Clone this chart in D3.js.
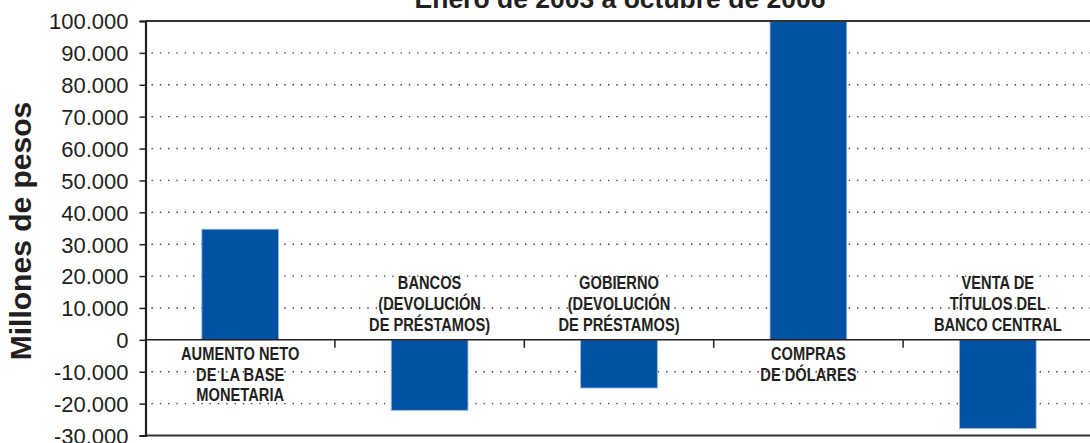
<!DOCTYPE html>
<html>
<head>
<meta charset="utf-8">
<script src="https://cdn.jsdelivr.net/npm/d3@7"></script>
<style>
  html, body { margin: 0; padding: 0; background: #fff; overflow: hidden; }
  svg { display: block; }
</style>
</head>
<body>
<svg id="chart" width="1090" height="443"></svg>
<script>
// Origen de la base monetaria, enero de 2003 a octubre de 2006 (millones de pesos)
const title = "Enero de 2003 a octubre de 2006";
const yTitle = "Millones de pesos";
const categories = [
  ["AUMENTO NETO", "DE LA BASE", "MONETARIA"],
  ["BANCOS", "(DEVOLUCIÓN", "DE PRÉSTAMOS)"],
  ["GOBIERNO", "(DEVOLUCIÓN", "DE PRÉSTAMOS)"],
  ["COMPRAS", "DE DÓLARES"],
  ["VENTA DE", "TÍTULOS DEL", "BANCO CENTRAL"]
];
const values = [34700, -22100, -15100, 100000, -27800];
const yTicks = [-30000, -20000, -10000, 0, 10000, 20000, 30000, 40000, 50000, 60000, 70000, 80000, 90000, 100000];

const svg = d3.select("#chart");
const margin = { top: 21, right: -2.5, bottom: 7.5, left: 145.5 };
const W = 1090, H = 443;
const x0 = margin.left, x1 = W - margin.right, y0 = margin.top, y1 = H - margin.bottom;

const locale = d3.formatLocale({ decimal: ",", thousands: ".", grouping: [3], currency: ["$", ""], minus: "-" });
const fmt = locale.format(",");

const x = d3.scaleBand().domain(d3.range(categories.length)).range([x0, x1]).paddingInner(0).paddingOuter(0);
const y = d3.scaleLinear().domain([-30000, 100000]).range([y1, y0]);
const barW = x.bandwidth() * 0.405;

const textColor = "#231f20";
const blue = "#0052a5";

// Title (partly above the top edge)
svg.append("text")
  .attr("x", 620).attr("y", 8)
  .attr("text-anchor", "middle")
  .attr("font-family", "'Liberation Sans', Arial, sans-serif")
  .attr("font-weight", "bold")
  .attr("font-size", 26.5)
  .attr("fill", textColor)
  .text(title);

// Dotted gridlines
svg.append("g")
  .selectAll("line")
  .data(yTicks.filter(t => t !== 0 && t !== 100000 && t !== -30000))
  .join("line")
  .attr("x1", x0 + 6).attr("x2", x1)
  .attr("y1", d => y(d)).attr("y2", d => y(d))
  .attr("stroke", "#3a3a3a")
  .attr("stroke-width", 1.4)
  .attr("stroke-dasharray", "1.4 6.9");

// Bars
const clipId = "plot-clip";
svg.append("clipPath").attr("id", clipId)
  .append("rect").attr("x", x0).attr("y", y0).attr("width", x1 - x0).attr("height", y1 - y0);

svg.append("g").attr("clip-path", `url(#${clipId})`)
  .selectAll("rect")
  .data(values)
  .join("rect")
  .attr("x", (d, i) => x(i) + x.bandwidth() / 2 - barW / 2)
  .attr("width", barW)
  .attr("y", d => y(Math.max(0, d)))
  .attr("height", d => Math.abs(y(d) - y(0)))
  .attr("fill", blue)
  .attr("stroke", "#9fb8d8")
  .attr("stroke-width", 0.8);

// Top and bottom frame lines
svg.append("line").attr("x1", x0).attr("x2", x1).attr("y1", y0).attr("y2", y0)
  .attr("stroke", "#333").attr("stroke-width", 2);
svg.append("line").attr("x1", x0).attr("x2", x1).attr("y1", y1).attr("y2", y1)
  .attr("stroke", "#333").attr("stroke-width", 2);

// Zero line with category separators
svg.append("line").attr("x1", x0).attr("x2", x1).attr("y1", y(0)).attr("y2", y(0))
  .attr("stroke", textColor).attr("stroke-width", 1.5);
svg.append("g")
  .selectAll("line")
  .data(d3.range(1, categories.length))
  .join("line")
  .attr("x1", i => x(i)).attr("x2", i => x(i))
  .attr("y1", y(0)).attr("y2", y(0) + 8)
  .attr("stroke", textColor).attr("stroke-width", 1.5);

// Y axis
const yAxis = svg.append("g")
  .attr("transform", `translate(${x0},0)`)
  .call(d3.axisLeft(y).tickValues(yTicks).tickFormat(fmt).tickSize(6).tickPadding(11));
yAxis.select(".domain").attr("stroke", textColor).attr("stroke-width", 2.2);
yAxis.selectAll(".tick line").attr("stroke", textColor).attr("stroke-width", 1.5);
yAxis.selectAll(".tick text")
  .attr("font-family", "'Liberation Sans', Arial, sans-serif")
  .attr("font-size", 22)
  .attr("fill", textColor)
  .attr("dy", "0.36em");

// Y axis title
svg.append("text")
  .attr("transform", "translate(31,231) rotate(-90)")
  .attr("text-anchor", "middle")
  .attr("font-family", "'Liberation Sans', Arial, sans-serif")
  .attr("font-weight", "bold")
  .attr("font-size", 30)
  .attr("fill", textColor)
  .text(yTitle);

// Category labels in a condensed bold face: below the zero line for
// positive bars, above it for negative ones
const lineH = 20.8;
svg.append("g")
  .selectAll("text")
  .data(categories)
  .join("text")
  .attr("transform", (lines, i) => `translate(${x(i) + x.bandwidth() / 2},0) scale(0.815,1)`)
  .attr("text-anchor", "middle")
  .attr("font-family", "'Liberation Sans', Arial, sans-serif")
  .attr("font-weight", "bold")
  .attr("font-size", 18)
  .attr("fill", textColor)
  .each(function (lines, i) {
    const firstBaseline = values[i] >= 0
      ? y(0) + 20
      : y(0) - 9 - (lines.length - 1) * lineH;
    d3.select(this).selectAll("tspan")
      .data(lines)
      .join("tspan")
      .attr("x", 0)
      .attr("y", (l, k) => firstBaseline + k * lineH)
      .text(l => l);
  });
</script>
</body>
</html>
